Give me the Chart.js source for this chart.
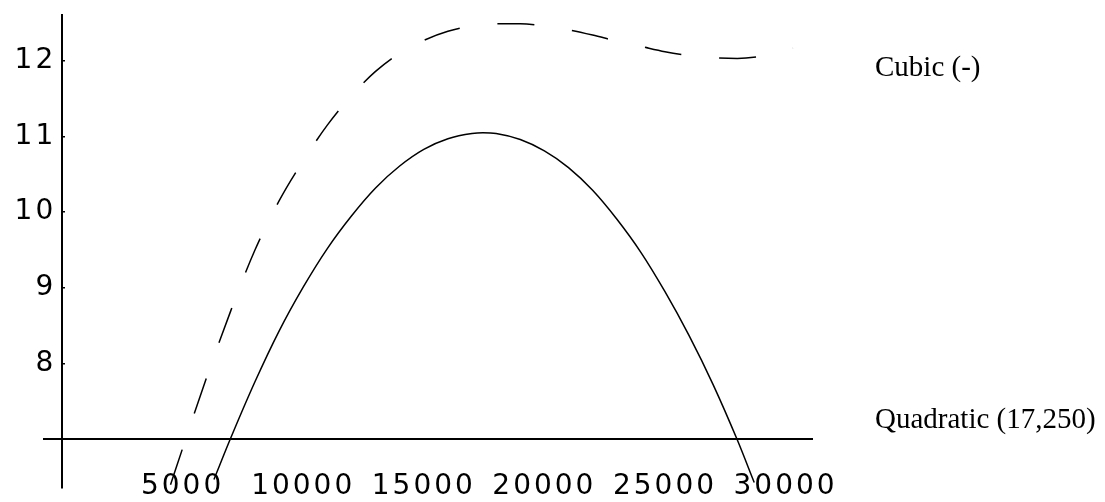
<!DOCTYPE html>
<html>
<head>
<meta charset="utf-8">
<script src="https://cdn.jsdelivr.net/npm/chart.js@4.4.1/dist/chart.umd.min.js"></script>
<style>
html, body { margin: 0; padding: 0; background: #fff; }
#wrap { position: relative; width: 1105px; height: 502px; }
#chart { position: absolute; left: 0; top: 0; }
.note {
    position: absolute;
    left: 875px;
    font-family: "Liberation Serif", "Times New Roman", serif;
    font-size: 29px;
    line-height: 29px;
    color: #000;
    white-space: nowrap;
}
</style>
</head>
<body>
<div id="wrap">
    <canvas id="chart" width="1105" height="502"></canvas>
    <div class="note" style="top:52px">Cubic (-)</div>
    <div class="note" style="top:404px">Quadratic (17,250)</div>
</div>
<script>
// values
const quadX = [6300, 7000, 8000, 9000, 10000, 11000, 12000, 13000, 14000, 15000, 16000, 17000, 17450, 18000, 19000, 20000, 21000, 22000, 23000, 24000, 25000, 26000, 27000, 28000, 28700];
const quadY = [6.47, 7.02, 7.76, 8.43, 9.01, 9.52, 9.95, 10.32, 10.61, 10.83, 10.97, 11.04, 11.05, 11.04, 10.96, 10.81, 10.59, 10.29, 9.91, 9.47, 8.95, 8.37, 7.72, 6.99, 6.43];

const cubicX = [4500, 5000, 6000, 7000, 8000, 9000, 10000, 11000, 12000, 13000, 14000, 15000, 16000, 17000, 18000, 19000, 20000, 21000, 22000, 23000, 24000, 25000, 26000, 27000, 28000, 29000, 30000, 30300];
const cubicY = [6.40, 6.88, 7.82, 8.70, 9.50, 10.15, 10.68, 11.15, 11.54, 11.86, 12.10, 12.27, 12.39, 12.46, 12.49, 12.49, 12.46, 12.41, 12.34, 12.26, 12.19, 12.12, 12.07, 12.04, 12.03, 12.06, 12.13, 12.17];

const xTicks = [5000, 10000, 15000, 20000, 25000, 30000];
const yTicks = [8, 9, 10, 11, 12];

function toPoints(xs, ys) {
    return xs.map((x, i) => ({ x: x, y: ys[i] }));
}

// the old bitmap tick font is wider than DejaVu, so space the digits out a bit
const letterSpacing = {
    id: 'letterSpacing',
    beforeDraw(chart) {
        chart.ctx.letterSpacing = '3px';
    }
};

// axes sit inside the plot (at x=0 / y=7), so they must not take any layout room
function noRoom(scale) {
    if (scale.isHorizontal()) {
        scale.height = 0;
    } else {
        scale.width = 0;
    }
    scale.paddingTop = 0;
    scale.paddingBottom = 0;
    scale.paddingLeft = 0;
    scale.paddingRight = 0;
}

const tickFont = { family: 'DejaVu Sans', size: 28 };

const ctx = document.getElementById('chart').getContext('2d');
new Chart(ctx, {
    type: 'scatter',
    data: {
        datasets: [{
            label: 'Quadratic (17,250)',
            data: toPoints(quadX, quadY),
            showLine: true,
            borderColor: '#000',
            borderWidth: 1.5,
            pointRadius: 0,
            cubicInterpolationMode: 'monotone'
        }, {
            label: 'Cubic (-)',
            data: toPoints(cubicX, cubicY),
            showLine: true,
            borderColor: '#000',
            borderWidth: 1.5,
            borderDash: [37, 38],
            pointRadius: 0,
            cubicInterpolationMode: 'monotone'
        }]
    },
    options: {
        responsive: false,
        animation: false,
        devicePixelRatio: 1,
        layout: {
            autoPadding: false,
            padding: { left: 44, right: 293, top: 15, bottom: 14 }
        },
        plugins: {
            legend: { display: false },
            tooltip: { enabled: false }
        },
        scales: {
            x: {
                type: 'linear',
                min: -746,
                max: 31095,
                position: { y: 7 },
                afterFit: noRoom,
                afterBuildTicks: scale => {
                    scale.ticks = xTicks.map(v => ({ value: v }));
                },
                grid: { display: false, drawTicks: false },
                border: { display: true, color: '#000', width: 2 },
                ticks: {
                    color: '#000',
                    font: tickFont,
                    padding: 31,
                    maxRotation: 0,
                    autoSkip: false,
                    callback: v => String(v)
                }
            },
            y: {
                type: 'linear',
                min: 6.357,
                max: 12.605,
                position: { x: 0 },
                afterFit: noRoom,
                afterBuildTicks: scale => {
                    scale.ticks = yTicks.map(v => ({ value: v }));
                },
                grid: {
                    drawOnChartArea: false,
                    drawTicks: true,
                    tickLength: -4,
                    color: '#000',
                    lineWidth: 1.5
                },
                border: { display: true, color: '#000', width: 2 },
                ticks: {
                    color: '#000',
                    font: tickFont,
                    autoSkip: false,
                    // hair space keeps the labels a few pixels off the axis
                    callback: v => String(v) + '\u200A'
                }
            }
        }
    },
    plugins: [letterSpacing]
});
</script>
</body>
</html>
